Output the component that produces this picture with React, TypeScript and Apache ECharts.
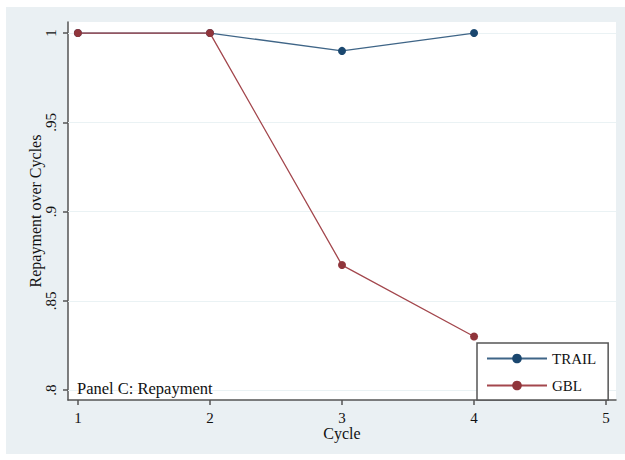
import React, { useEffect, useRef } from "react";
import * as echarts from "echarts";

// Repayment rates by loan cycle for the two lending schemes
const cycles = [1, 2, 3, 4];
const trailRepayment = [1, 1, 0.99, 1];
const gblRepayment = [1, 1, 0.87, 0.83];

const xTicks = [1, 2, 3, 4, 5];
const yTicks = [0.8, 0.85, 0.9, 0.95, 1];
const yTickLabels = [".8", ".85", ".9", ".95", "1"];

const FONT = "Liberation Serif";
const NAVY = "#1a476f";
const NAVY_LINE = "#3f6587";
const MAROON = "#90353b";
const MAROON_LINE = "#a3474d";

export default function App() {
  const ref = useRef<HTMLDivElement>(null);

  useEffect(() => {
    if (!ref.current) return;
    const chart = echarts.init(ref.current, undefined, { renderer: "svg" });

    const axisLineStyle = { color: "#555555", width: 1.5 };

    chart.setOption({
      animation: false,
      backgroundColor: "#ffffff",
      textStyle: { fontFamily: FONT },
      graphic: [
        {
          type: "rect",
          z: -10,
          silent: true,
          shape: { x: 6, y: 7, width: 619, height: 447 },
          style: { fill: "#eaf0f3" },
        },
        {
          type: "rect",
          z: -9,
          silent: true,
          shape: { x: 68, y: 22, width: 548, height: 378 },
          style: { fill: "#ffffff" },
        },
        {
          type: "text",
          left: 77,
          top: 380,
          z: 10,
          style: {
            text: "Panel C: Repayment",
            font: `16.5px ${FONT}`,
            fill: "#111111",
          },
        },
      ],
      grid: { left: 68, right: 9, top: 22, bottom: 60 },
      legend: {
        orient: "vertical",
        left: 477,
        top: 343,
        padding: [8, 12, 7, 9],
        itemWidth: 60,
        itemHeight: 12,
        itemGap: 12,
        backgroundColor: "#ffffff",
        borderColor: "#555555",
        borderWidth: 1.5,
        borderRadius: 0,
        textStyle: { fontFamily: FONT, fontSize: 15, color: "#111111" },
        data: ["TRAIL", "GBL"],
      },
      xAxis: {
        type: "value",
        min: 0.925,
        max: 5.075,
        name: "Cycle",
        nameLocation: "middle",
        nameGap: 25,
        nameMoveOverlap: false,
        nameTextStyle: { fontFamily: FONT, fontSize: 16, color: "#111111" },
        axisLine: { show: true, lineStyle: axisLineStyle },
        axisTick: { show: true, length: 5, customValues: xTicks, lineStyle: axisLineStyle },
        axisLabel: {
          customValues: xTicks,
          fontFamily: FONT,
          fontSize: 15,
          color: "#111111",
          margin: 10,
        },
        splitLine: { show: false },
      },
      yAxis: {
        type: "value",
        min: 0.7944,
        max: 1.0062,
        name: "Repayment over Cycles",
        nameLocation: "middle",
        nameGap: 25,
        nameMoveOverlap: false,
        nameTextStyle: { fontFamily: FONT, fontSize: 16, color: "#111111" },
        axisLine: { show: true, lineStyle: axisLineStyle },
        axisTick: { show: true, length: 5, customValues: yTicks, lineStyle: axisLineStyle },
        axisLabel: {
          customValues: yTicks,
          rotate: 90,
          fontFamily: FONT,
          fontSize: 15,
          color: "#111111",
          margin: 10,
          formatter: (v: number) => {
            const i = yTicks.findIndex((t) => Math.abs(t - v) < 1e-6);
            return i >= 0 ? yTickLabels[i] : "";
          },
        },
        splitLine: { show: false },
      },
      series: [
        {
          name: "TRAIL",
          type: "line",
          data: cycles.map((c, i) => [c, trailRepayment[i]]),
          symbol: "circle",
          symbolSize: 8,
          itemStyle: { color: NAVY },
          lineStyle: { color: NAVY_LINE, width: 1.3 },
          z: 3,
          markLine: {
            silent: true,
            symbol: "none",
            label: { show: false },
            lineStyle: { color: "#eaf2f4", width: 1.2, type: "solid" },
            data: yTicks.map((t) => ({ yAxis: t })),
            z: 1,
          },
        },
        {
          name: "GBL",
          type: "line",
          data: cycles.map((c, i) => [c, gblRepayment[i]]),
          symbol: "circle",
          symbolSize: 8,
          itemStyle: { color: MAROON },
          lineStyle: { color: MAROON_LINE, width: 1.3 },
          z: 4,
        },
      ],
    });

    return () => chart.dispose();
  }, []);

  return (
    <div
      ref={ref}
      style={{ position: "fixed", left: 0, top: 0, width: 625, height: 460 }}
    />
  );
}
